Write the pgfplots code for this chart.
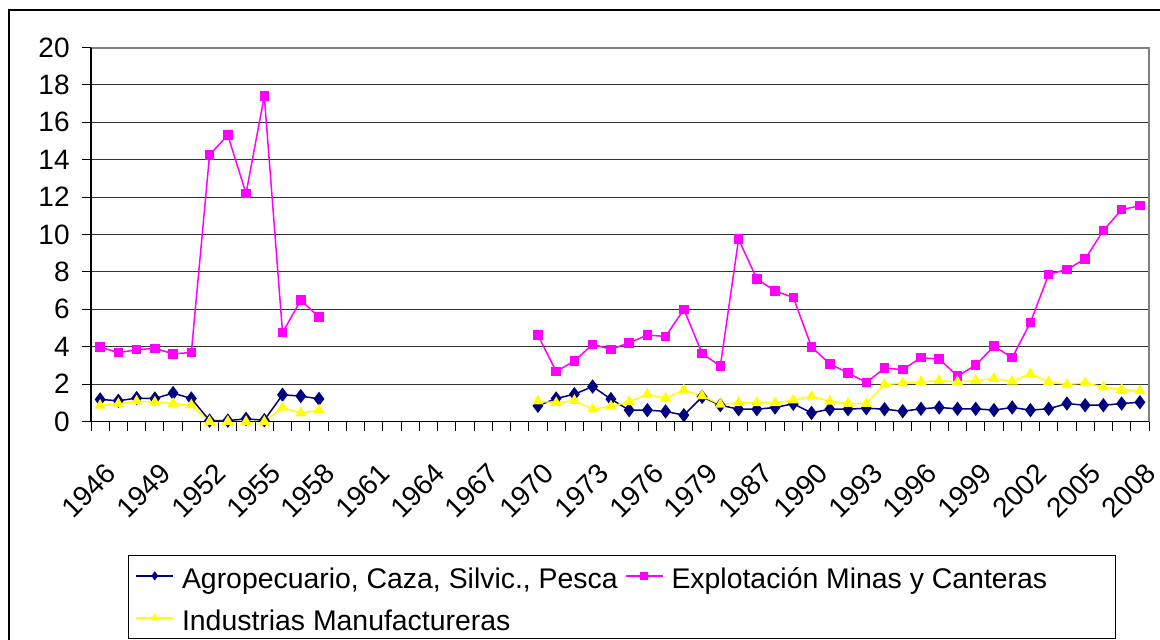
\documentclass[border=0pt]{standalone}
\usepackage{fontspec}
\setmainfont{Liberation Sans}
\usepackage{pgfplots}
\pgfplotsset{compat=1.18}
\definecolor{navyc}{RGB}{0,0,128}
\definecolor{magc}{RGB}{255,0,255}
\definecolor{yelc}{RGB}{255,255,0}
\definecolor{bordc}{RGB}{128,128,128}
\begin{document}
\begin{tikzpicture}
\begin{axis}[
  scale only axis, width=529pt, height=187pt,
  xmin=-0.5, xmax=57.5, ymin=0, ymax=20,
  clip=false,
  axis line style={draw=none},
  font=\fontsize{14}{16.5}\selectfont,
  /pgf/number format/assume math mode=true,
  tick pos=left,
  tick align=outside, major tick length=0pt, minor tick length=4.5pt,
  tick style={black, line width=0.5pt},
  xtick={0,3,...,57},
  xticklabels={1946,1949,1952,1955,1958,1961,1964,1967,1970,1973,1976,1979,1987,1990,1993,1996,1999,2002,2005,2008},
  minor xtick={-0.5,0.5,...,57.5},
  xticklabel style={xshift=2pt, yshift=-20pt, rotate=45, anchor=north east, inner sep=0pt},
  ytick={0,2,...,20},
  minor ytick={0,2,...,20},
  yticklabel style={anchor=east, inner sep=0pt, xshift=-10.5pt},
  ymajorgrids, grid style={black!80, line width=0.5pt},
  legend columns=2,
  legend image code/.code={\draw[mark repeat=2,mark phase=2,#1,mark size=1.7pt] plot coordinates {(0pt,0pt) (9.25pt,0pt) (18.5pt,0pt)};},
  legend style={at={(0.035,-0.357)}, anchor=north west, draw=black, line width=0.5pt,
    inner xsep=3.5pt, inner ysep=1pt,
    font=\fontsize{14.2}{16.5}\selectfont,
    nodes={inner sep=0pt, text height=15.65pt, text depth=2.7pt, anchor=west},
    row sep=2.65pt,
    /tikz/every odd column/.append style={column sep=4pt},
    /tikz/every even column/.append style={column sep=0pt}},
  unbounded coords=jump,
]
\addplot[navyc, line width=0.75pt, mark=diamond*, mark size=3pt, mark options={solid, fill=navyc}] coordinates {
(0,1.18)(1,1.11)(2,1.25)(3,1.23)(4,1.52)(5,1.23)(6,0.05)(7,0.05)(8,0.14)(9,0.07)(10,1.43)(11,1.36)(12,1.21)(13,nan)
(24,0.84)(25,1.23)(26,1.46)(27,1.87)(28,1.20)(29,0.61)(30,0.61)(31,0.54)(32,0.34)(33,1.32)(34,0.87)(35,0.66)(36,0.66)(37,0.75)(38,0.95)(39,0.46)(40,0.66)(41,0.66)(42,0.71)(43,0.66)(44,0.55)(45,0.68)(46,0.75)(47,0.68)(48,0.68)(49,0.61)(50,0.75)(51,0.61)(52,0.68)(53,0.96)(54,0.87)(55,0.87)(56,0.96)(57,1.03)
};
\addlegendentry{\makebox[221.5pt][l]{Agropecuario, Caza, Silvic., Pesca}}
\addplot[magc, line width=0.75pt, mark=square*, mark size=2pt, mark options={solid, fill=magc}] coordinates {
(0,3.98)(1,3.68)(2,3.84)(3,3.91)(4,3.62)(5,3.69)(6,14.26)(7,15.31)(8,12.19)(9,17.41)(10,4.75)(11,6.49)(12,5.58)(13,nan)
(24,4.62)(25,2.68)(26,3.23)(27,4.13)(28,3.86)(29,4.21)(30,4.62)(31,4.55)(32,6.0)(33,3.64)(34,2.96)(35,9.75)(36,7.63)(37,6.98)(38,6.64)(39,3.99)(40,3.08)(41,2.60)(42,2.09)(43,2.85)(44,2.78)(45,3.41)(46,3.34)(47,2.43)(48,3.01)(49,4.03)(50,3.41)(51,5.30)(52,7.87)(53,8.13)(54,8.70)(55,10.22)(56,11.33)(57,11.54)
};
\addlegendentry{\makebox[218.5pt][l]{Explotación Minas y Canteras}}
\addplot[yelc, line width=0.75pt, mark=triangle*, mark size=2.5pt, mark options={solid, fill=yelc}] coordinates {
(0,0.86)(1,0.95)(2,1.09)(3,1.03)(4,0.96)(5,0.87)(6,0.0)(7,0.0)(8,0.0)(9,0.0)(10,0.75)(11,0.45)(12,0.61)(13,nan)
(24,1.09)(25,1.0)(26,1.12)(27,0.66)(28,0.82)(29,1.05)(30,1.46)(31,1.25)(32,1.68)(33,1.37)(34,0.91)(35,1.0)(36,1.0)(37,1.0)(38,1.14)(39,1.34)(40,1.08)(41,0.96)(42,0.96)(43,1.98)(44,2.05)(45,2.12)(46,2.19)(47,2.12)(48,2.19)(49,2.30)(50,2.14)(51,2.55)(52,2.12)(53,1.98)(54,2.07)(55,1.84)(56,1.71)(57,1.64)
};
\addlegendentry{Industrias Manufactureras}
\draw[bordc, line width=1pt] (rel axis cs:0,1) -- (rel axis cs:1,1) -- (rel axis cs:1,0);
\draw[black, line width=0.75pt] (rel axis cs:0,1) -- (rel axis cs:0,0) -- (rel axis cs:1,0);
\end{axis}
\draw[black, line width=0.75pt] (-41pt,-130pt) rectangle (560pt,205.75pt);
\pgfresetboundingbox
\useasboundingbox (-45.5pt,-108.75pt) rectangle (534.5pt,210.75pt);
\end{tikzpicture}
\end{document}
